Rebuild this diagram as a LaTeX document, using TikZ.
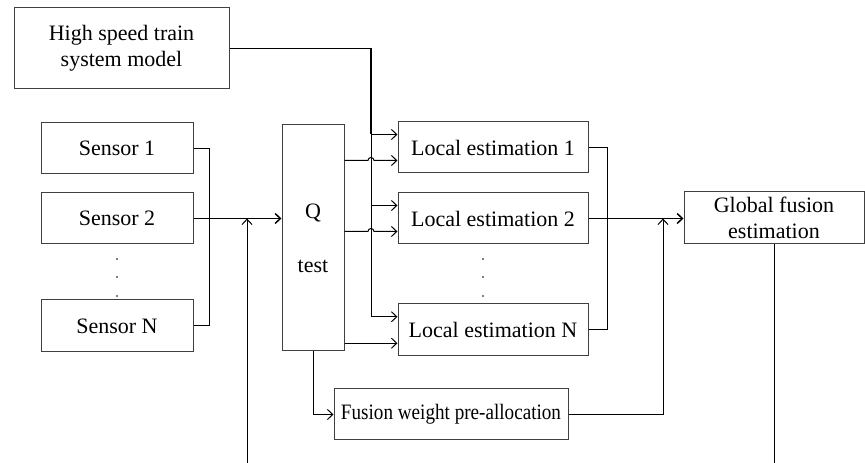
\documentclass[tikz,border=0pt]{standalone}
\usepackage{fontspec}
\setmainfont{Liberation Serif}
\usetikzlibrary{arrows.meta,calc}

\tikzset{every picture/.style={line width=0.75pt}}
\tikzset{
  blockbox/.style={draw=black!75, align=center, inner sep=0pt,
    font=\fontsize{16.5}{19.5}\selectfont},
  flow/.style={-{Straight Barb[length=4pt,width=7.5pt]}},
  mainline/.style={line width=1.1pt}
}

\begin{document}
\begin{tikzpicture}[x=0.75pt,y=0.75pt,yscale=-1,xscale=1]
	\useasboundingbox (0,0) rectangle (865,463);
	
	%Shape: Rectangle (model)
	\node (model) at (121.5,48.5) [blockbox, minimum width=161.25pt, minimum height=60.75pt] {High speed train\\system model};
	%Shape: Rectangle (sensors)
	\node (s1) at (117,148.5) [blockbox, minimum width=114pt, minimum height=38.25pt] {Sensor 1};
	\node (s2) at (117,218.5) [blockbox, minimum width=114pt, minimum height=38.25pt] {Sensor 2};
	\node (sN) at (117,326) [blockbox, minimum width=114pt, minimum height=39pt] {Sensor N};
	%Shape: Rectangle (Q test)
	\node (Q) at (313,238) [blockbox, minimum width=46.5pt, minimum height=169.5pt] {Q\\[21pt]test};
	%Shape: Rectangle (local estimations)
	\node (le1) at (493,147.5) [blockbox, minimum width=142.5pt, minimum height=38.25pt] {Local estimation 1};
	\node (le2) at (493,218.5) [blockbox, minimum width=142.5pt, minimum height=38.25pt] {Local estimation 2};
	\node (leN) at (493,330) [blockbox, minimum width=142.5pt, minimum height=39pt] {Local estimation N};
	%Shape: Rectangle (global fusion)
	\node (gf) at (774,218) [blockbox, minimum width=135pt, minimum height=39pt] {Global fusion\\estimation};
	%Shape: Rectangle (fusion weight)
	\node (fw) at (451,414.5) [blockbox, minimum width=175.5pt, minimum height=38.25pt] {\scalebox{0.87}[1]{Fusion weight pre-allocation}};
	
	%Dots
	\foreach \yy in {259,277,296} {
		\fill (117,\yy) circle (0.8);
		\fill (483,\yy) circle (0.8);
	}
	
	%Bus coordinates
	\coordinate (sbus) at (209,0);
	\coordinate (mbus) at (371,0);
	\coordinate (lbus) at (607,0);
	\coordinate (wbus) at (663,0);
	\coordinate (in1) at (247,463);
	\coordinate (le1a) at ($(le1.north west)!.25!(le1.south west)$);
	\coordinate (le1b) at ($(le1.north west)!.75!(le1.south west)$);
	\coordinate (le2a) at ($(le2.north west)!.25!(le2.south west)$);
	\coordinate (le2b) at ($(le2.north west)!.75!(le2.south west)$);
	\coordinate (leNa) at ($(leN.north west)!.25!(leN.south west)$);
	\coordinate (leNb) at ($(leN.north west)!.75!(leN.south west)$);
	
	%Straight Lines (sensors to Q test)
	\draw (s1.east) -| (sbus |- sN.east) -- (sN.east);
	\draw [flow, mainline] (s2.east) -- (Q.west |- s2.east);
	\draw [flow] (in1) -- (in1 |- s2.east);
	
	%Straight Lines (model to local estimations)
	\draw [mainline] (model.east) -| (mbus |- le1a);
	\draw (mbus |- le1a) -- (mbus |- leNa);
	\draw [flow] (mbus |- le1a) -- (le1a);
	\draw [flow] (mbus |- le2a) -- (le2a);
	\draw [flow] (mbus |- leNa) -- (leNa);
	
	%Straight Lines (Q test to local estimations, with jumps)
	\draw [flow] (Q.east |- le1b) -- ($(mbus |- le1b)+(-3,0)$) arc [start angle=180, end angle=360, radius=3] -- (le1b);
	\draw [flow] (Q.east |- le2b) -- ($(mbus |- le2b)+(-3,0)$) arc [start angle=180, end angle=360, radius=3] -- (le2b);
	\draw [flow] (Q.east |- leNb) -- (leNb);
	
	%Straight Lines (local estimations to global fusion)
	\draw (le1.east) -| (lbus |- leN.east) -- (leN.east);
	\draw [flow, mainline] (le2.east) -- (gf.west |- le2.east);
	
	%Straight Lines (fusion weight)
	\draw [flow] (Q.south) |- (fw.west);
	\draw [flow] (fw.east) -| (wbus |- le2.east);
	
	%Straight Lines (output)
	\draw (gf.south) -- (gf.south |- in1);
	
\end{tikzpicture}
\end{document}
